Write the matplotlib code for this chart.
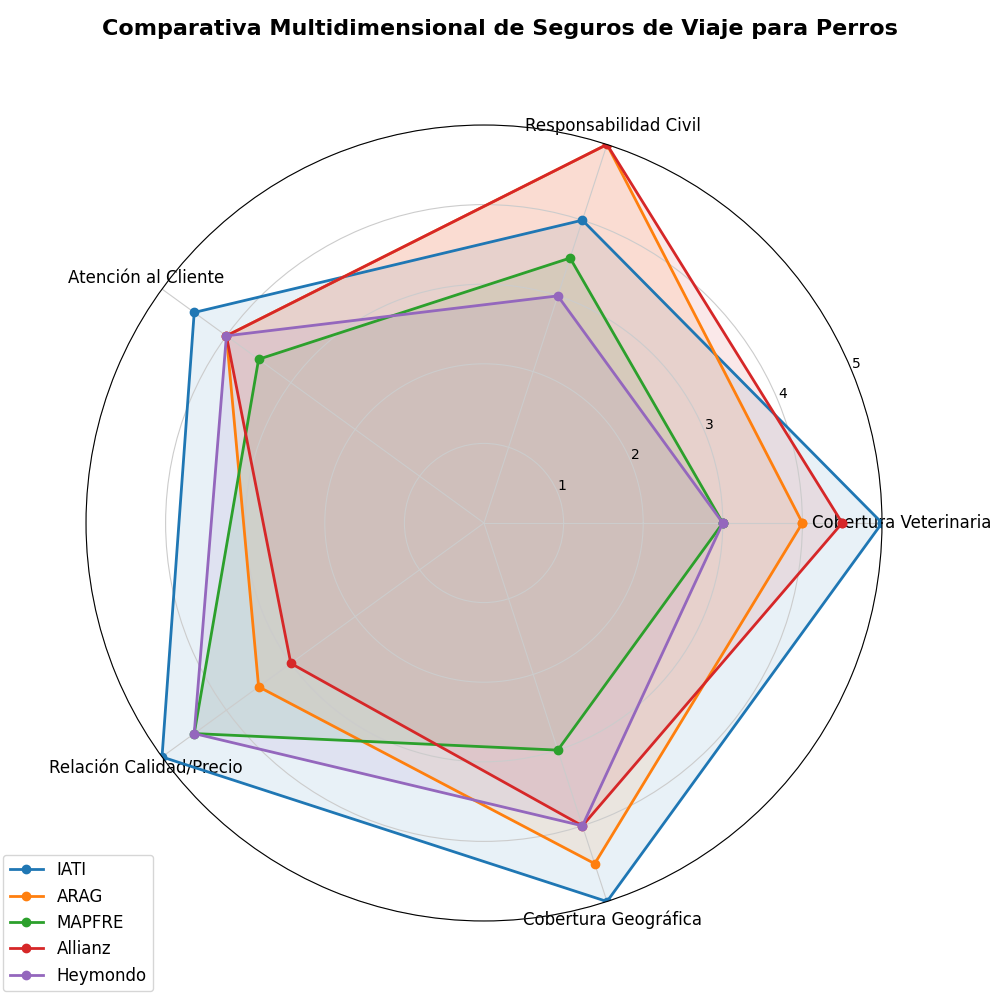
import numpy as np
import matplotlib
matplotlib.use("Agg")
import matplotlib.pyplot as plt

categories = ["Cobertura Veterinaria", "Responsabilidad Civil", "Atención al Cliente",
              "Relación Calidad/Precio", "Cobertura Geográfica"]
iati = [5, 4, 4.5, 5, 5]
arag = [4, 5, 4, 3.5, 4.5]
mapfre = [3, 3.5, 3.5, 4.5, 3]
allianz = [4.5, 5, 4, 3, 4]
heymondo = [3, 3, 4, 4.5, 4]
series_names = ["IATI", "ARAG", "MAPFRE", "Allianz", "Heymondo"]
series_values = [iati, arag, mapfre, allianz, heymondo]
rticks = [1, 2, 3, 4, 5]

N = len(categories)
angles = np.linspace(0, 2 * np.pi, N, endpoint=False).tolist()
angles_c = angles + angles[:1]

fig = plt.figure(figsize=(10, 10), dpi=100)
ax = fig.add_axes([0.086, 0.079, 0.796, 0.796], projection="polar")

for name, vals in zip(series_names, series_values):
    v = list(vals) + vals[:1]
    line, = ax.plot(angles_c, v, "o-", linewidth=2, label=name)
    ax.fill(angles_c, v, alpha=0.1, color=line.get_color())

ax.set_xticks(angles)
ax.set_xticklabels(categories, fontsize=12)
ax.set_ylim(0, 5)
ax.set_yticks(rticks)
ax.set_yticklabels([str(t) for t in rticks], fontsize=10)
ax.grid(True, color="#cccccc")

fig.suptitle("Comparativa Multidimensional de Seguros de Viaje para Perros",
             fontsize=16, fontweight="bold", y=0.981)
ax.legend(loc="upper right", bbox_to_anchor=(0.095, 0.094), fontsize=12)

fig.savefig("out.png", dpi=100)
